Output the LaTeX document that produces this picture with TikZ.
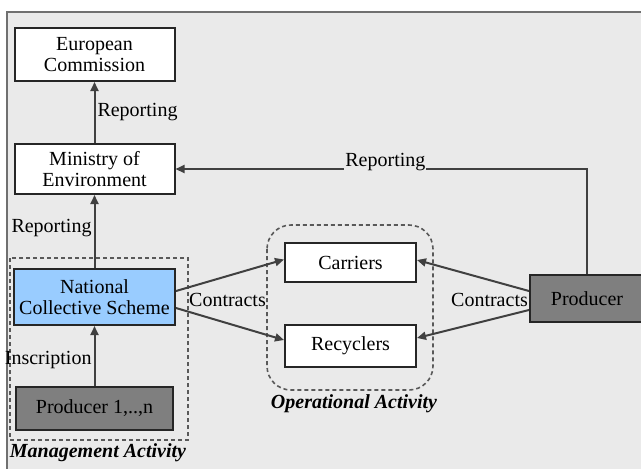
\documentclass[tikz,border=0pt]{standalone}
\usepackage{fontspec}
\setmainfont{Liberation Serif}
\usetikzlibrary{arrows.meta}

\definecolor{bggray}{HTML}{EAEAEA}
\definecolor{framegray}{HTML}{707070}
\definecolor{linegray}{HTML}{404040}
\definecolor{schemeblue}{HTML}{99CCFF}
\definecolor{prodgray}{HTML}{7F7F7F}

\tikzset{
  box/.style={draw=black!85, line width=1pt, fill=white, align=center,
    inner sep=0pt, font=\fontsize{10}{10.5}\selectfont},
  conn/.style={draw=linegray, line width=1pt,
    -{Triangle[length=4.5pt,width=4pt]}},
  area/.style={draw=black!65, line width=0.8pt, dash pattern=on 2pt off 1.5pt},
  actlabel/.style={font=\fontsize{10}{12}\selectfont\bfseries\itshape}
}

\begin{document}
\begin{tikzpicture}[x=0.5pt,y=-0.5pt]

      \clip (0,0) rectangle (641,468);
      \fill[white] (0,0) rectangle (641,468);
      \filldraw[fill=bggray, draw=framegray, line width=1pt] (7,12) rectangle (660,480);

      % activity areas
      \draw[area] (10,258) rectangle (188,440);
      \draw[area, rounded corners=12pt] (267,225) rectangle (433,390);
      \node[actlabel] (8) at (98,453) {Management Activity};
      \node[actlabel] (9) at (354,404) {Operational Activity};

      \begin{scope}[every node/.style={box}]
        \node[minimum width=80pt, minimum height=26.5pt] (1) at (94.5,54.5) {European\\Commission};
        \node[minimum width=80pt, minimum height=25pt] (2) at (94.5,169) {Ministry of\\Environment};
        \node[minimum width=80.5pt, minimum height=28pt, fill=schemeblue] (3) at (94.5,297) {National\\Collective Scheme};
        \node[minimum width=78.5pt, minimum height=21.5pt, fill=prodgray] (4) at (94.5,408.5) {Producer 1,..,n};
        \node[minimum width=65.5pt, minimum height=19.5pt] (5) at (350.5,262.5) {Carriers};
        \node[minimum width=65.5pt, minimum height=21pt] (6) at (350.5,346) {Recyclers};
        \node[minimum width=57pt, minimum height=23.5pt, fill=prodgray] (7) at (587,298.5) {Producer};
      \end{scope}

      \begin{scope}[every node/.style={font=\fontsize{10}{10.5}\selectfont, inner sep=1pt}]

        \node (10) at (227.5,300) {Contracts};
        \node (11) at (489.5,300) {Contracts};

        \begin{scope}[every edge/.style={conn}]
          \path (2) edge node[pos=0.5, right] {Reporting} (1);
          \path (3) edge node[pos=0.55, left] {Reporting} (2);
          \path (4) edge node[pos=0.43, left] {Inscription} (3);
          \path ([yshift=3pt]3.east) edge ([yshift=1.5pt]5.west);
          \path ([yshift=-5.5pt]3.east) edge ([yshift=3pt]6.west);
          \path ([yshift=3.75pt]7.west) edge ([yshift=1.25pt]5.east);
          \path ([yshift=-5.75pt]7.west) edge ([yshift=4pt]6.east);
        \end{scope}

        \draw[conn] (7.north) |- (2.east)
          node[pos=0.745, yshift=3.5pt, fill=bggray, inner sep=0.5pt] {Reporting};
      \end{scope}

    \end{tikzpicture}
\end{document}
